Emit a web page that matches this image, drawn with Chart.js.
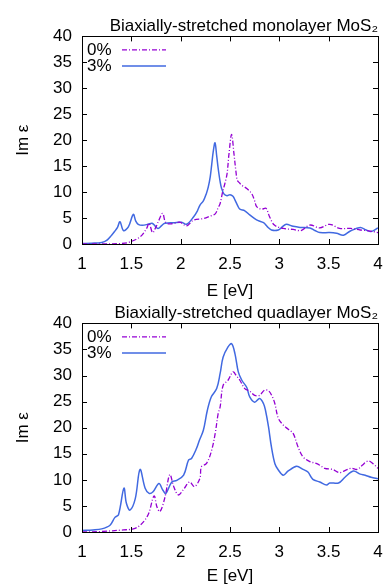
<!DOCTYPE html>
<html>
<head>
<meta charset="utf-8">
<script src="https://cdn.jsdelivr.net/npm/chart.js@4"></script>
<style>
  html, body { margin: 0; padding: 0; background: #fff; }
  #wrap { position: relative; width: 386px; height: 587px; }
  canvas { position: absolute; left: 0; }
  #topChart { top: 0; }
  #bottomChart { top: 302px; }
</style>
</head>
<body>
<div id="wrap">
  <canvas id="topChart" width="386" height="302"></canvas>
  <canvas id="bottomChart" width="386" height="285"></canvas>
</div>
<script>
// ---- data ----
const seriesLabels = ['0%', '3%'];
const xTicks = [1, 1.5, 2, 2.5, 3, 3.5, 4];
const yTicks = [0, 5, 10, 15, 20, 25, 30, 35, 40];

// monolayer, 0% strain
const monoE0  = [1.0, 1.2, 1.4, 1.486, 1.59, 1.655, 1.68, 1.716, 1.75, 1.78, 1.817, 1.85, 1.91, 1.99, 2.06, 2.13, 2.23, 2.30, 2.35, 2.38, 2.40, 2.425, 2.45, 2.47, 2.49, 2.516, 2.54, 2.56, 2.574, 2.60, 2.62, 2.67, 2.72, 2.75, 2.77, 2.82, 2.864, 2.90, 2.95, 3.04, 3.14, 3.22, 3.31, 3.41, 3.51, 3.61, 3.72, 3.82, 3.92, 4.0];
const monoIm0 = [0.0, 0.0, 0.1, 0.4, 1.4, 3.0, 4.0, 2.2, 3.3, 4.6, 5.9, 4.1, 3.9, 4.2, 3.5, 4.6, 4.9, 5.4, 5.8, 7.0, 7.8, 10.0, 11.8, 13.5, 17.4, 21.1, 17.4, 14.0, 12.3, 11.7, 11.3, 10.7, 9.7, 8.3, 7.2, 6.7, 6.9, 5.3, 3.65, 3.0, 2.8, 2.6, 3.65, 3.1, 3.8, 3.0, 3.0, 2.7, 2.5, 2.2];

// monolayer, 3% strain
const monoE3  = [1.0, 1.1, 1.2, 1.25, 1.3, 1.33, 1.36, 1.385, 1.42, 1.47, 1.52, 1.545, 1.57, 1.61, 1.67, 1.71, 1.74, 1.77, 1.81, 1.84, 1.93, 2.01, 2.06, 2.13, 2.17, 2.196, 2.23, 2.26, 2.28, 2.30, 2.314, 2.33, 2.348, 2.365, 2.38, 2.40, 2.415, 2.44, 2.47, 2.50, 2.53, 2.55, 2.58, 2.60, 2.65, 2.70, 2.75, 2.786, 2.84, 2.88, 2.92, 2.99, 3.03, 3.07, 3.14, 3.21, 3.31, 3.36, 3.41, 3.51, 3.58, 3.65, 3.72, 3.82, 3.88, 3.93, 4.0];
const monoIm3 = [0.1, 0.15, 0.3, 0.7, 1.7, 2.4, 3.2, 4.3, 2.6, 3.3, 5.7, 4.4, 3.8, 3.6, 3.8, 4.0, 3.5, 3.0, 3.6, 4.0, 4.1, 4.2, 3.8, 5.2, 6.4, 7.5, 8.3, 9.7, 11.0, 13.0, 15.2, 17.8, 19.5, 17.0, 14.6, 12.0, 10.7, 9.6, 9.3, 9.5, 9.2, 8.5, 7.3, 6.7, 6.4, 5.6, 4.9, 4.5, 4.1, 3.3, 2.7, 2.7, 3.3, 3.8, 3.4, 3.2, 3.1, 2.6, 2.2, 2.2, 2.05, 1.7, 2.5, 3.2, 2.7, 2.4, 3.1];

// quadlayer, 0% strain
const quadE0  = [1.0, 1.2, 1.42, 1.52, 1.59, 1.67, 1.73, 1.76, 1.79, 1.84, 1.89, 1.93, 1.976, 2.03, 2.09, 2.14, 2.195, 2.21, 2.26, 2.31, 2.35, 2.38, 2.40, 2.43, 2.48, 2.53, 2.56, 2.60, 2.65, 2.70, 2.75, 2.80, 2.85, 2.89, 2.93, 2.955, 2.99, 3.04, 3.09, 3.14, 3.19, 3.24, 3.31, 3.38, 3.41, 3.46, 3.54, 3.61, 3.68, 3.73, 3.79, 3.84, 3.90, 3.95, 4.0];
const quadIm0 = [0.0, 0.1, 0.4, 0.6, 1.3, 3.3, 6.9, 4.8, 3.9, 6.6, 11.0, 8.7, 7.1, 8.2, 9.6, 8.7, 10.3, 12.5, 13.1, 15.4, 18.9, 22.7, 24.0, 28.1, 29.1, 30.7, 30.1, 29.1, 27.5, 27.0, 26.2, 26.2, 27.2, 27.1, 25.9, 24.6, 21.8, 20.5, 19.7, 18.9, 16.3, 14.4, 13.5, 13.1, 12.8, 12.2, 12.0, 11.4, 11.9, 12.2, 12.0, 12.8, 13.6, 13.1, 12.2];

// quadlayer, 3% strain
const quadE3  = [1.0, 1.11, 1.2, 1.284, 1.334, 1.37, 1.425, 1.45, 1.486, 1.54, 1.588, 1.64, 1.68, 1.72, 1.78, 1.82, 1.85, 1.91, 1.96, 2.03, 2.08, 2.11, 2.16, 2.19, 2.23, 2.27, 2.31, 2.365, 2.40, 2.43, 2.48, 2.517, 2.55, 2.584, 2.62, 2.67, 2.70, 2.75, 2.80, 2.84, 2.86, 2.89, 2.92, 2.955, 2.99, 3.04, 3.09, 3.175, 3.24, 3.29, 3.34, 3.41, 3.48, 3.51, 3.60, 3.665, 3.75, 3.82, 3.87, 3.93, 4.0];
const quadIm3 = [0.3, 0.4, 0.6, 1.3, 2.8, 3.3, 8.4, 5.5, 4.2, 6.4, 12.0, 8.4, 7.4, 7.7, 9.3, 8.0, 7.4, 9.6, 9.9, 10.9, 13.8, 14.1, 16.0, 17.6, 19.5, 23.3, 25.9, 27.5, 30.4, 33.5, 35.5, 36.1, 34.2, 30.7, 29.1, 27.7, 25.9, 24.9, 25.6, 24.6, 23.3, 20.2, 16.3, 13.1, 11.9, 10.9, 11.7, 12.6, 12.0, 11.5, 10.1, 9.6, 9.0, 9.4, 9.4, 10.5, 11.7, 11.1, 10.9, 10.5, 10.2];

const colour0 = '#9400d3';
const colour3 = '#4169e1';
const fontFamily = '"Liberation Sans", Arial, Helvetica, sans-serif';

function toPoints(xs, ys) {
    return xs.map((x, i) => ({ x: x, y: ys[i] }));
}

// gnuplot-style frame: box round the plot, ticks pointing inward on all four sides
const framePlugin = {
    id: 'frame',
    afterDraw(chart) {
        const { ctx, chartArea: a, scales } = chart;
        ctx.save();
        ctx.strokeStyle = '#000';
        ctx.lineWidth = 1;
        ctx.beginPath();
        scales.x.ticks.forEach(t => {
            const px = Math.round(scales.x.getPixelForValue(t.value)) + 0.5;
            ctx.moveTo(px, a.bottom); ctx.lineTo(px, a.bottom - 5);
            ctx.moveTo(px, a.top); ctx.lineTo(px, a.top + 5);
        });
        scales.y.ticks.forEach(t => {
            const py = Math.round(scales.y.getPixelForValue(t.value)) + 0.5;
            ctx.moveTo(a.left, py); ctx.lineTo(a.left + 5, py);
            ctx.moveTo(a.right, py); ctx.lineTo(a.right - 5, py);
        });
        ctx.stroke();
        ctx.strokeRect(Math.round(a.left) + 0.5, Math.round(a.top) + 0.5,
                       Math.round(a.right - a.left), Math.round(a.bottom - a.top));
        ctx.restore();
    }
};

// key drawn inside the top-left corner: label first, then the line sample
const insideKeyPlugin = {
    id: 'insideKey',
    afterDraw(chart) {
        const { ctx, chartArea: a } = chart;
        ctx.save();
        ctx.font = '17px ' + fontFamily;
        ctx.textBaseline = 'middle';
        ctx.fillStyle = '#000';
        chart.data.datasets.forEach((ds, i) => {
            const y = a.top + 13 + i * 16;
            ctx.textAlign = 'left';
            ctx.fillText(ds.label, a.left + 5, y + 1);
            ctx.strokeStyle = ds.borderColor;
            ctx.lineWidth = ds.borderWidth;
            ctx.setLineDash(ds.borderDash || []);
            ctx.beginPath();
            ctx.moveTo(a.left + 40, y + 0.5);
            ctx.lineTo(a.left + 84, y + 0.5);
            ctx.stroke();
        });
        ctx.restore();
    }
};

function buildChart(canvasId, title, e0, im0, e3, im3, titlePad, xScaleHeight) {
    const ctx = document.getElementById(canvasId).getContext('2d');
    return new Chart(ctx, {
        type: 'line',
        data: {
            datasets: [
                { label: seriesLabels[0], data: toPoints(e0, im0), borderColor: colour0, borderWidth: 1.3,
                  borderDash: [5, 2, 1, 2], pointRadius: 0, tension: 0.35, fill: false },
                { label: seriesLabels[1], data: toPoints(e3, im3), borderColor: colour3, borderWidth: 1.5,
                  pointRadius: 0, tension: 0.35, fill: false }
            ]
        },
        options: {
            responsive: false,
            animation: false,
            layout: { padding: { left: 0, right: 8, top: 0, bottom: 0 } },
            plugins: {
                legend: { display: false },
                tooltip: { enabled: false },
                title: {
                    display: true, text: title, align: 'end', color: '#000',
                    font: { family: fontFamily, size: 17, weight: 'normal', lineHeight: 1.2 },
                    padding: titlePad
                }
            },
            scales: {
                x: {
                    type: 'linear', min: 1, max: 4,
                    afterBuildTicks: s => { s.ticks = xTicks.map(v => ({ value: v })); },
                    afterFit: s => { s.height = xScaleHeight; s.paddingRight = 0; s.paddingLeft = 0; },
                    grid: { display: false, drawTicks: false },
                    border: { display: false },
                    ticks: { color: '#000', padding: 10, maxRotation: 0, callback: v => String(v),
                             font: { family: fontFamily, size: 17 } },
                    title: { display: true, text: 'E [eV]', color: '#000', padding: { top: 0, bottom: 0 },
                             font: { family: fontFamily, size: 17, lineHeight: 1.2 } }
                },
                y: {
                    min: 0, max: 40,
                    afterBuildTicks: s => { s.ticks = yTicks.map(v => ({ value: v })); },
                    afterFit: s => { s.width = 82; s.paddingTop = 0; s.paddingBottom = 0; },
                    grid: { display: false, drawTicks: false },
                    border: { display: false },
                    ticks: { color: '#000', padding: 10, callback: v => String(v),
                             font: { family: fontFamily, size: 17 } },
                    title: { display: true, text: 'Im ε', color: '#000', padding: { top: 13, bottom: 0 },
                             font: { family: fontFamily, size: 17, lineHeight: 1.2 } }
                }
            }
        },
        plugins: [framePlugin, insideKeyPlugin]
    });
}

buildChart('topChart', 'Biaxially-stretched monolayer MoS₂', monoE0, monoIm0, monoE3, monoIm3,
           { top: 16, bottom: 0 }, 58);
buildChart('bottomChart', 'Biaxially-stretched quadlayer MoS₂', quadE0, quadIm0, quadE3, quadIm3,
           { top: 1, bottom: 0 }, 55);
</script>
</body>
</html>
